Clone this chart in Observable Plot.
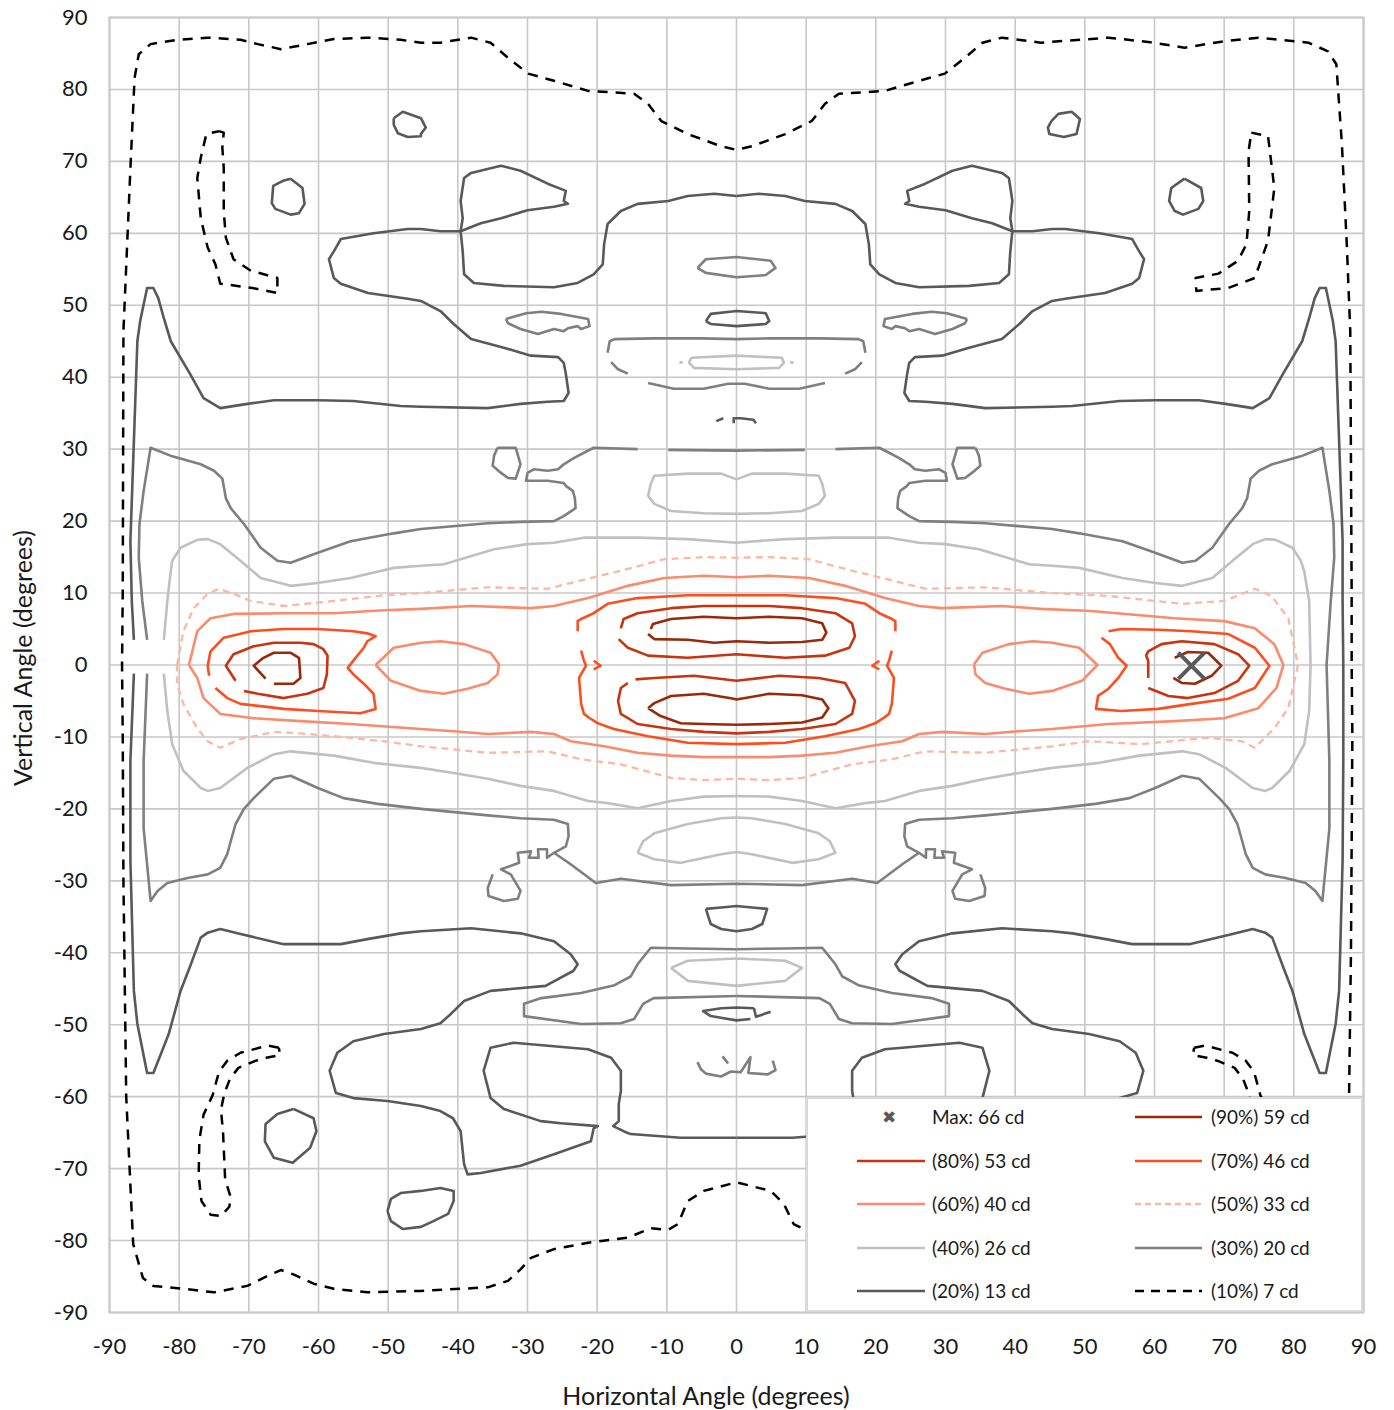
<!DOCTYPE html>
<html><head><meta charset="utf-8">
<script src="https://cdn.jsdelivr.net/npm/d3@7"></script>
<script src="https://cdn.jsdelivr.net/npm/@observablehq/plot@0.6"></script>
<style>
body{margin:0;background:#fff;font-family:Lato,"Open Sans",sans-serif;}
#wrap{position:relative;width:1394px;height:1410px;}
.ttl{position:absolute;font-size:25px;color:#1a1a1a;white-space:nowrap;}
#legend{position:absolute;left:806px;top:1097px;width:557px;height:215px;box-sizing:border-box;border:2px solid #d9d9d9;background:#fff;}
.lgt{position:absolute;font-size:19px;color:#1a1a1a;white-space:nowrap;line-height:20px;}
</style></head><body><div id="wrap"></div>
<script>
const xTicks = [-90,-80,-70,-60,-50,-40,-30,-20,-10,0,10,20,30,40,50,60,70,80,90];
const yTicks = [-90,-80,-70,-60,-50,-40,-30,-20,-10,0,10,20,30,40,50,60,70,80,90];
const maxPoint = [{h:65.3, v:-0.1, cd:66}];
const legendKeys = ["max","90","80","70","60","50","40","30","20","10"];
const legendLabels = ["Max: 66 cd","(90%) 59 cd","(80%) 53 cd","(70%) 46 cd","(60%) 40 cd","(50%) 33 cd","(40%) 26 cd","(30%) 20 cd","(20%) 13 cd","(10%) 7 cd"];

// ---------- 10% (7 cd) ----------
const c10_outer = [[87.9,-62],[88.2,-40],[88.4,-10],[88.3,0],[88.3,10],[88.1,46.4],[87.6,58.5],[86.9,72.4],[86.1,83.5],[84.9,85.3],[82.1,86.5],[74.9,87.2],[70,86.7],[64.3,85.8],[59.1,86.6],[53.4,87.2],[43.7,86.5],[38.1,87.2],[35.3,86.5],[32.8,84.4],[29.9,82.2],[26.2,81.2],[21.3,79.8],[14.7,79.4],[12.7,78],[10.8,75.6],[7,73.8],[2.2,72.1],[0,71.6],[-2.2,72.1],[-7,73.8],[-10.8,75.6],[-12.7,78],[-14.7,79.4],[-21.3,79.8],[-26.2,81.2],[-29.9,82.2],[-32.8,84.4],[-35.3,86.5],[-38.1,87.2],[-42.5,86.5],[-45.3,86.5],[-48.2,86.9],[-53,87.2],[-57.8,87],[-61.6,86.3],[-65.4,85.6],[-68.7,86.3],[-71.2,86.9],[-75.9,87.2],[-80.2,86.9],[-84.1,86.3],[-85.8,84.9],[-86.4,81.6],[-87,69],[-88,46.4],[-88.1,10],[-88.2,0],[-88.1,-10],[-88,-30],[-87.6,-60],[-86.6,-80.5],[-85.2,-85.2],[-83.7,-86.3],[-79.4,-86.7],[-75,-87.2],[-70.2,-86.3],[-67.3,-84.9],[-65.4,-84.1],[-63.6,-84.7],[-60.7,-86],[-57.8,-86.7],[-53,-87.2],[-45.3,-87],[-35.7,-86.5],[-32.8,-85.6],[-31,-84],[-29.5,-82.4],[-26.2,-81.2],[-21.3,-80.3],[-15.6,-79.6],[-12.3,-78.3],[-9.8,-78.5],[-8.4,-77.7],[-7,-74.5],[-4.7,-73.1],[0,-71.9],[4.9,-73.1],[6.8,-74.9],[8.2,-77.7],[10.3,-78.7],[13,-79.5]];
const c10_topLeft = [[-74.3,74.2],[-73.6,74],[-73.8,71.9],[-73.6,69.1],[-73.6,63.1],[-73.3,59.4],[-72.2,56.4],[-69.7,54.8],[-65.9,53.8],[-65.9,51.7],[-69.5,52.4],[-74.1,53],[-74.8,55.7],[-75.9,58],[-76.9,62.1],[-77.4,67.7],[-76.9,70.5],[-76.1,73.8]];
const c10_topRight = [[73.9,74],[76.3,73.5],[77.2,66.3],[76.3,59],[74.4,53.8],[70.6,52.4],[66,52],[65.9,53.8],[69.2,54.4],[72,56.2],[73.2,58.5],[73.6,63.1],[73.5,71.4]];
const c10_botLeft = [[-65.7,-53.2],[-67.3,-52.9],[-71.2,-53.9],[-73.1,-55],[-74.3,-56.6],[-75.2,-59.8],[-76.5,-62.5],[-77.1,-66],[-77.2,-71],[-76.8,-74.5],[-75.5,-76.4],[-74,-76.6],[-72.8,-75.3],[-72.6,-74],[-73.4,-71.5],[-73.7,-65],[-74,-61.8],[-73.5,-59.5],[-72.7,-57.5],[-71.5,-56],[-69,-55],[-67.5,-54.6],[-65.5,-54.2]];
const c10_botRight = [[65.7,-53.2],[67.3,-52.9],[71.2,-53.9],[73.1,-55],[74.3,-56.6],[75.2,-59.8],[76.5,-62.5],[77.1,-66],[77.2,-71],[76.8,-74.5],[75.5,-76.4],[74,-76.6],[72.8,-75.3],[72.6,-74],[73.4,-71.5],[73.7,-65],[74,-61.8],[73.5,-59.5],[72.7,-57.5],[71.5,-56],[69,-55],[67.5,-54.6],[65.5,-54.2]];

// ---------- 20% (13 cd) ----------
const c20_upperLeft = [[0,65.2],[-3.2,65.5],[-7,65.2],[-9.8,64.5],[-14.2,64.1],[-16.6,63.1],[-18.5,61.3],[-19,58.5],[-19.2,55.7],[-20.5,54.3],[-22.8,53.1],[-26.2,52.5],[-33.4,52.7],[-37.7,53.1],[-39.1,54.3],[-39.3,57.5],[-39.6,60.3],[-39.3,62.1],[-39.6,64.5],[-39.1,67.7],[-38.1,68.4],[-33.8,69.4],[-31,68.7],[-27.1,66.9],[-24.5,65.9],[-24.8,64.5],[-24.2,64.1],[-26.2,63.7],[-30,63.2],[-33.8,62.1],[-36.7,61.4],[-39.6,60.3],[-42.5,60.3],[-45.3,60.6],[-47.2,60.6],[-52.1,60],[-56.8,59.2],[-57.8,57.5],[-58.5,56.4],[-57.8,53.8],[-56.8,53],[-52.9,51.7],[-47.2,50.9],[-45.3,50.6],[-42.5,49.2],[-40.6,47.4],[-38.1,45.3],[-33.4,44.1],[-29.5,43],[-25.6,42.8],[-24.8,42],[-24.5,40.5],[-24.1,37.8],[-24.8,36.7],[-27.1,36.6],[-31,36.3],[-35.7,35.7],[-45.3,35.9],[-48.2,36],[-55,36.7],[-60.1,36.8],[-66.4,36.8],[-70.2,36.3],[-74.1,35.7],[-76.5,37.1],[-78.4,40.4],[-81.2,45],[-82.2,48.2],[-83,51],[-83.7,52.4],[-84.6,52.4],[-85.6,47.8],[-86,45],[-86.5,31.1],[-87,17.2],[-86.8,8.9],[-86.5,3.5]];
const c20_lowerLeft = [[-86.5,-1.2],[-87,-13.3],[-87,-27.2],[-86.5,-45.3],[-86,-49.9],[-84.6,-56.7],[-83.7,-56.7],[-81.5,-51.3],[-79.8,-45.3],[-78.4,-41.8],[-76.9,-37.9],[-75.9,-37.2],[-74.1,-36.7],[-71.2,-37.4],[-65,-38.8],[-56.8,-38.8],[-53,-38.1],[-48.2,-37.3],[-45.3,-37],[-38.1,-36.6],[-31,-37.3],[-26.2,-38.4],[-23.8,-40.2],[-22.8,-41.6],[-23.4,-42.5],[-27.4,-44.6],[-35.3,-45.3],[-39.1,-46.7],[-41,-48.5],[-42.5,-49.8],[-45.3,-50.6],[-50.6,-51.3],[-55,-52.3],[-57.3,-53.9],[-58.4,-56.4],[-57.5,-59.5],[-55,-60.2],[-50.1,-60.6],[-45.3,-61.3],[-42.5,-62],[-40.7,-63],[-39.6,-64.8],[-39.1,-69.4],[-38.6,-70.8],[-36.7,-70.6],[-31,-69.6],[-26.2,-68],[-20.9,-66.2],[-20.5,-64.4],[-19.9,-64.1],[-25.2,-63.7],[-28.1,-63.4],[-33.4,-61.7],[-35.3,-60.2],[-36.3,-56.4],[-35.3,-53.2],[-32,-52.5],[-21.3,-53.4],[-18,-54.6],[-16.6,-56.4],[-16.6,-59.2],[-16.9,-61],[-16.9,-63.4],[-17.7,-64.1],[-16.2,-64.8],[-15.2,-65.2],[-8,-65.7],[0,-65.7]];
const c20_right = [[0,-65.7],[8,-65.7],[15.2,-65.2],[16.2,-64.8],[17.7,-64.1],[16.9,-63.4],[16.9,-61],[16.6,-59.2],[16.6,-56.4],[18,-54.6],[21.3,-53.4],[32,-52.5],[35.3,-53.2],[36.3,-56.4],[35.3,-60.2],[33.4,-61.7],[28.1,-63.4],[25.2,-63.7],[19.9,-64.1],[20.5,-64.4],[20.9,-66.2],[26.2,-68],[31,-69.6],[36.7,-70.6],[38.6,-70.8],[39.1,-69.4],[39.6,-64.8],[40.7,-63],[42.5,-62],[45.3,-61.3],[50.1,-60.6],[55,-60.2],[57.5,-59.5],[58.4,-56.4],[57.3,-53.9],[55,-52.3],[50.6,-51.3],[45.3,-50.6],[42.5,-49.8],[41,-48.5],[39.1,-46.7],[35.3,-45.3],[27.4,-44.6],[23.4,-42.5],[22.8,-41.6],[23.8,-40.2],[26.2,-38.4],[31,-37.3],[38.1,-36.6],[45.3,-37],[48.2,-37.3],[53,-38.1],[56.8,-38.8],[65,-38.8],[71.2,-37.4],[74.1,-36.7],[75.9,-37.2],[76.9,-37.9],[78.4,-41.8],[79.8,-45.3],[81.5,-51.3],[83.7,-56.7],[84.6,-56.7],[86,-49.9],[86.5,-45.3],[87,-27.2],[87.1,-13.3],[87.1,0],[87,8.9],[87,17.2],[86.5,31.1],[86,45],[85.6,47.8],[84.6,52.4],[83.7,52.4],[83,51],[82.2,48.2],[81.2,45],[78.4,40.4],[76.5,37.1],[74.1,35.7],[70.2,36.3],[66.4,36.8],[60.1,36.8],[55,36.7],[48.2,36],[45.3,35.9],[35.7,35.7],[31,36.3],[27.1,36.6],[24.8,36.7],[24.1,37.8],[24.5,40.5],[24.8,42],[25.6,42.8],[29.5,43],[33.4,44.1],[38.1,45.3],[40.6,47.4],[42.5,49.2],[45.3,50.6],[47.2,50.9],[52.9,51.7],[56.8,53],[57.8,53.8],[58.5,56.4],[57.8,57.5],[56.8,59.2],[52.1,60],[47.2,60.6],[45.3,60.6],[42.5,60.3],[39.6,60.3],[36.7,61.4],[33.8,62.1],[30,63.2],[26.2,63.7],[24.2,64.1],[24.8,64.5],[24.5,65.9],[27.1,66.9],[31,68.7],[33.8,69.4],[38.1,68.4],[39.1,67.7],[39.6,64.5],[39.3,62.1],[39.6,60.3],[39.3,57.5],[39.1,54.3],[37.7,53.1],[33.4,52.7],[26.2,52.5],[22.8,53.1],[20.5,54.3],[19.2,55.7],[19,58.5],[18.5,61.3],[16.6,63.1],[14.2,64.1],[9.8,64.5],[7,65.2],[3.2,65.5],[0,65.2]];
const c20_islandTL = [[-49.2,76],[-47.9,76.9],[-45.3,76],[-44.6,74.7],[-45.3,73.8],[-45.3,73.5],[-47.2,73.4],[-48.6,73.9],[-49.2,75.1]];
const c20_islandTR = [[45.2,75.6],[46.2,76.6],[48.1,76.9],[49.3,75.9],[48.8,73.8],[47,73.4],[44.9,73.8],[44.7,74.7]];
const c20_circleTL = [[-64,67.6],[-62.3,66.3],[-62,64.1],[-62.8,62.8],[-64,62.6],[-66.2,63.4],[-66.7,64.2],[-66.5,66.6],[-65.1,67.3]];
const c20_circleTR = [[64.3,67.6],[66.7,66.3],[67,64.5],[66.3,63.4],[64.1,62.6],[62.9,63.1],[62.1,64.5],[62.4,66.3]];
const c20_circleBL = [[-63.6,-61.7],[-60.7,-63],[-60.3,-64.8],[-61.2,-67.1],[-63.7,-69.2],[-66.4,-68.5],[-67.7,-66.2],[-67.6,-63.8],[-65.9,-62.4]];
const c20_islandBL = [[-50.1,-75.9],[-49.6,-74.2],[-48.2,-73.4],[-45.3,-73.1],[-42.5,-72.7],[-40.6,-73.1],[-40.6,-74.5],[-41.4,-76.3],[-43.5,-77.3],[-45.3,-78.1],[-47.9,-78.4],[-49.6,-77.3]];
const c20_center48 = [[-4.4,47.8],[-3.7,48.8],[0,49.2],[4.2,48.9],[4.7,47.8],[4.2,47.4],[0,47.1],[-3.7,47.4]];
const c20_sq34a = [[-2.9,33.9],[-1.9,34.3]];
const c20_sq34b = [[-0.4,33.6],[-0.4,34.3],[0.6,34.3],[2.4,34.1],[2.8,33.6]];
const c20_centerM35 = [[-4.4,-33.9],[-3.7,-36],[-2.2,-36.7],[0,-37],[2.2,-36.7],[3.7,-36],[4.4,-33.9],[2.2,-33.7],[0,-33.5],[-2.2,-33.7]];
const c20_sqM48 = [[2.5,-47.7],[0,-47.6],[-2.2,-47.7],[-4.8,-48.1],[-3.7,-48.8],[0,-49.4],[2,-49.2]];
const c20_sqM48hook = [[2.5,-47.7],[2.8,-48.9],[4.9,-48.2]];

// ---------- 30% (20 cd) ----------
const c30_upperLeft = [[-14.2,30],[-20.5,30.2],[-21.9,29.5],[-23.3,28.8],[-24.8,27.9],[-25.6,27.2],[-27.1,27],[-29.1,27.2],[-30,26.7],[-30.2,25.6],[-27.1,25.6],[-24.8,25.3],[-24.5,24.9],[-23.5,24.2],[-23.2,23.2],[-23.1,21.8],[-24.8,20.7],[-26.2,20],[-31,19.9],[-35.7,19.7],[-45.3,18.9],[-49.2,18.3],[-55.4,17.2],[-60.1,15.6],[-64,14.2],[-65.9,14.5],[-68.3,16.3],[-70.7,19.6],[-72.6,21.8],[-73.3,23.2],[-73.8,25.9],[-75,27],[-76.9,27.9],[-81,29],[-84.1,30.2],[-85.1,24.2],[-85.7,19.6],[-85.8,14.9],[-85.3,8.9],[-84.6,3.5]];
const c30_center30 = [[-9.8,29.9],[0,29.8],[9.8,29.9]];
const c30_rest = [[-84.6,-1.2],[-85.1,-13.3],[-85.1,-22.7],[-84.1,-32.8],[-83.1,-31.4],[-81.7,-30.3],[-78.8,-29.6],[-75.9,-29.1],[-74.1,-28.2],[-73.1,-26.3],[-72.6,-24.5],[-71.9,-22.1],[-70.7,-20],[-69.3,-18.5],[-66.4,-15.8],[-64,-15.4],[-60.1,-17.1],[-56.4,-18.5],[-51.5,-19.3],[-45.3,-20],[-35.7,-20.9],[-31,-21.3],[-26.2,-21.5],[-24.2,-22.1],[-24.1,-23.8],[-24.5,-25.2],[-26.2,-26.1],[-23.8,-27.7],[-20.2,-30.3],[-16.6,-29.7],[-9.4,-30.6],[0,-30.4],[9.4,-30.6],[16.6,-29.7],[20.2,-30.3],[23.8,-27.7],[26.2,-26.1],[24.5,-25.2],[24.1,-23.8],[24.2,-22.1],[26.2,-21.5],[31,-21.3],[35.7,-20.9],[45.3,-20],[51.5,-19.3],[56.4,-18.5],[60.1,-17.1],[64,-15.4],[66.4,-15.8],[69.3,-18.5],[70.7,-20],[71.9,-22.1],[72.6,-24.5],[73.1,-26.3],[74.1,-28.2],[75.9,-29.1],[78.8,-29.6],[81.7,-30.3],[83.1,-31.4],[84.1,-32.8],[85.1,-22.7],[85.1,-13.3],[84.7,0],[85.3,8.9],[85.8,14.9],[85.7,19.6],[85.1,24.2],[84.1,30.2],[81,29],[76.9,27.9],[75,27],[73.8,25.9],[73.3,23.2],[72.6,21.8],[70.7,19.6],[68.3,16.3],[65.9,14.5],[64,14.2],[60.1,15.6],[55.4,17.2],[49.2,18.3],[45.3,18.9],[35.7,19.7],[31,19.9],[26.2,20],[24.8,20.7],[23.1,21.8],[23.2,23.2],[23.5,24.2],[24.5,24.9],[24.8,25.3],[27.1,25.6],[30.2,25.6],[30,26.7],[29.1,27.2],[27.1,27],[25.6,27.2],[24.8,27.9],[23.3,28.8],[21.9,29.5],[20.5,30.2],[14.2,30]];
const c30_jagLeft = [[-26.2,-26.1],[-27.2,-26.8],[-27.2,-25.6],[-28.5,-25.6],[-28.4,-26.8],[-29.8,-26.8],[-29.5,-25.9],[-31.4,-26.1],[-31.2,-27.5],[-33.8,-28.4],[-32.4,-29.1],[-31,-31.4],[-31.4,-32.5],[-33.4,-32.8],[-35.6,-32.1],[-35.7,-31],[-35,-29.1]];
const c30_jagRight = [[26.2,-26.1],[27.2,-26.8],[27.2,-25.6],[28.5,-25.6],[28.4,-26.8],[29.8,-26.8],[29.5,-25.9],[31.4,-26.1],[31.2,-27.5],[33.8,-28.4],[32.4,-29.1],[31,-31.4],[31.4,-32.5],[33.4,-32.8],[35.6,-32.1],[35.7,-31],[35,-29.1]];
const c30_loopL = [[-34.3,30.2],[-31.7,30.2],[-31,27.9],[-31.7,25.9],[-32.8,26],[-33.8,26.7],[-35,27.7],[-34.8,29.1]];
const c30_loopR = [[34.3,30.2],[31.7,30.2],[31,27.9],[31.7,25.9],[32.8,26],[33.8,26.7],[35,27.7],[34.8,29.1]];
const c30_lensL = [[-33.1,48.1],[-30.2,48.9],[-28,49.1],[-25.2,48.8],[-21.3,48.1],[-21.1,47.1],[-22.3,46.7],[-22.8,47.1],[-24.2,46.8],[-24.8,46.4],[-26.2,46.7],[-28.5,46],[-31,46.7],[-32.8,47.5]];
const c30_lensR = [[33.1,48.1],[30.2,48.9],[28,49.1],[25.2,48.8],[21.3,48.1],[21.1,47.1],[22.3,46.7],[22.8,47.1],[24.2,46.8],[24.8,46.4],[26.2,46.7],[28.5,46],[31,46.7],[32.8,47.5]];
const c30_center56 = [[-5.6,55.2],[-4.4,56.4],[0,56.7],[4.9,56.2],[5.6,55.2],[4.2,54.2],[0,53.9],[-4.4,54.5]];
const c30_bracket45 = [[-18.5,43.4],[-18.2,45],[-17.5,45.3],[-12,45.4],[-5,45.4],[0,45.3],[5,45.4],[12,45.4],[17.5,45.3],[18.2,45],[18.5,43.4]];
const c30_bowlL = [[-18,42.1],[-17,41.1],[-15.6,40.5]];
const c30_bowl = [[-12.7,39.2],[-9,38.4],[-4.7,38.4],[-1.2,39.1],[0,39.1],[1.2,39.1],[4.7,38.4],[9,38.4],[12.7,39.2]];
const c30_bowlR = [[15.6,40.5],[17,41.1],[18,42.1]];
const c30_lowL = [[0,-39.5],[-7,-39.4],[-12.3,-39.3],[-14.2,-41.6],[-15.2,-43.3],[-17.5,-44.5],[-22.3,-45.6],[-28,-46.3],[-30.5,-47.1],[-30.5,-48.8],[-22.3,-49.9],[-16.6,-49.8],[-14.7,-49.2],[-13.4,-47.1],[-11.9,-46.3],[0,-46]];
const c30_lowR = [[0,-39.5],[7,-39.4],[12.3,-39.3],[14.2,-41.6],[15.2,-43.3],[17.5,-44.5],[22.3,-45.6],[28,-46.3],[30.5,-47.1],[30.5,-48.8],[22.3,-49.9],[16.6,-49.8],[14.7,-49.2],[13.4,-47.1],[11.9,-46.3],[0,-46]];
const c30_sqM56 = [[-5.6,-55.2],[-5.1,-56.2],[-4.4,-56.8],[-2.2,-57.2],[-0.8,-56.5],[0.6,-56.6],[2,-54.5],[1.7,-56.7],[4.5,-56.9],[5.6,-56.3],[5.2,-55]];
const c30_sqM56dash = [[-2,-54.4],[-1.2,-55.4]];

// ---------- 40% (26 cd) ----------
const c40_main = [[-82.2,3.5],[-81.7,8.9],[-81.2,13.1],[-81,14.5],[-79.8,16.3],[-77.4,17.4],[-75.9,17.5],[-74.1,16.8],[-71.2,14.5],[-68.3,12.1],[-64,11],[-60.1,11.4],[-55.4,12.1],[-49.2,13.5],[-45.3,13.8],[-42,14],[-34.8,16.1],[-30,16.8],[-26.2,17],[-21.9,17.7],[-14.2,17.7],[-7,17.5],[0,17],[7,17.5],[14.2,17.7],[21.9,17.7],[26.2,17],[30,16.8],[34.8,16.1],[42,14],[45.3,13.8],[49.2,13.5],[55.4,12.1],[60.1,11.4],[64,11],[68.3,12.1],[71.2,14.5],[74.1,16.8],[75.9,17.5],[77.4,17.4],[79.8,16.3],[81,14.5],[81.5,13],[82.2,8.9],[82.4,0],[82.2,-6.4],[81.5,-11],[79.4,-14.7],[76.9,-17.1],[75.9,-17.5],[74.1,-17.1],[70.2,-14.3],[66.4,-12.4],[64,-12],[57.8,-12.6],[52.1,-13.6],[45.3,-14.3],[40.6,-15],[35.7,-15.8],[31,-16.8],[26.2,-17.5],[21.3,-18.9],[18.5,-19.2],[14.2,-19.9],[9.4,-18.9],[4.7,-18.3],[0,-18.2],[-4.7,-18.3],[-9.4,-18.9],[-14.2,-19.9],[-18.5,-19.2],[-21.3,-18.9],[-26.2,-17.5],[-31,-16.8],[-35.7,-15.8],[-40.6,-15],[-45.3,-14.3],[-52.1,-13.6],[-57.8,-12.6],[-64,-12],[-66.4,-12.4],[-70.2,-14.3],[-74.1,-17.1],[-75.9,-17.5],[-76.9,-17.1],[-79.4,-14.7],[-81,-11],[-81.7,-6.4],[-82.2,-1.2]];
const c40_center42 = [[-6.5,42.7],[0,43],[6.5,42.7],[6.8,42],[6.1,41.3],[0,41.1],[-6.1,41.3],[-6.8,42]];
const c40_dotL = [[-8.2,42],[-7.7,42.1]];
const c40_dotR = [[7.7,42.1],[8.2,42]];
const c40_lens24 = [[-12.7,23.5],[-12.3,25.2],[-11.8,26.3],[-7,26.6],[-2.2,26.6],[0,25.8],[2.2,26.6],[7,26.6],[11.8,26.3],[12.3,25.2],[12.7,23.5],[11.8,22.4],[9.4,21.4],[4.7,21.1],[0,21],[-4.7,21.1],[-9.4,21.4],[-11.8,22.4]];
const c40_lensM24 = [[-14.2,-26.1],[-13.4,-24.5],[-11.8,-23.4],[-7,-22.1],[-2.2,-21.3],[0,-21.2],[2.2,-21.3],[7,-22.1],[11.8,-23.4],[13.4,-24.5],[14.2,-26.1],[11.8,-27],[8,-27.5],[2.2,-26.3],[0,-26],[-2.2,-26.3],[-8,-27.5],[-11.8,-27]];
const c40_lensM42 = [[-9.4,-42.1],[-7,-41.1],[0,-40.8],[7,-41.1],[9.4,-42.1],[7,-43.9],[0,-44.6],[-7,-43.9]];

// ---------- 50% (33 cd) ----------
const c50_main = [[-80.3,0],[-79.4,4.7],[-77.9,7.9],[-75.9,9.9],[-74.3,10.6],[-72.2,9.9],[-69.7,8.9],[-65,8.2],[-57.8,8.9],[-50.6,9.7],[-45.3,10],[-35.7,10.8],[-27.1,10.6],[-21.3,12],[-16.6,13.1],[-10.4,14.7],[-4.7,15],[0,14.9],[4.7,15],[10.4,14.7],[16.6,13.1],[21.3,12],[27.1,10.6],[35.7,10.8],[45.3,10],[53.4,9.6],[63.9,8.5],[70,8.9],[74.4,10.6],[76.8,9.6],[79.2,6.5],[80.6,0],[79.2,-6],[77.2,-8.8],[74.4,-11.5],[72.5,-10.6],[67.7,-10.1],[58.1,-11],[50.6,-10.6],[45.3,-11.3],[35.7,-12.2],[27.1,-12],[22.3,-13.1],[16.6,-13.8],[9.4,-15.7],[4.7,-16],[0,-15.8],[-4.7,-16],[-9.4,-15.7],[-16.6,-13.8],[-22.3,-13.1],[-27.1,-12],[-35.7,-12.2],[-45.3,-11.3],[-50.6,-10.6],[-57.8,-9.9],[-62.6,-9.5],[-66.4,-9.3],[-71.2,-10.3],[-74.1,-11.5],[-75.9,-10.6],[-77.4,-8.8],[-79.4,-5.4],[-80.3,-2.6]];

// ---------- 60% (40 cd) ----------
const c60_main = [[-78.6,0],[-77.4,4.7],[-75.5,6.5],[-72.2,7.1],[-65,7.2],[-57.8,7.2],[-50.6,7.6],[-45.3,7.8],[-38.1,8.2],[-29.5,7.9],[-26.2,8.2],[-21.3,9.3],[-15.6,11],[-10.4,12.1],[-4.7,12.4],[0,12.2],[4.7,12.4],[10.4,12.1],[15.6,11],[21.3,9.3],[26.2,8.2],[29.5,7.9],[38.1,8.2],[43.7,7.8],[50.9,7.5],[62.9,6.5],[70,6.1],[74.4,5.1],[77.2,2.9],[78.5,0],[77.5,-3.2],[74.9,-6],[70,-7.4],[62.9,-7.8],[53.4,-8.2],[45.3,-8.9],[40.6,-9.2],[35.7,-9.6],[29.5,-9.3],[26.2,-9.6],[23.8,-10.6],[19,-11.3],[14.2,-12.2],[9.4,-12.6],[4.7,-12.8],[0,-12.8],[-4.7,-12.8],[-9.4,-12.6],[-14.2,-12.2],[-19,-11.3],[-23.8,-10.6],[-26.2,-9.6],[-29.5,-9.3],[-35.7,-9.6],[-40.6,-9.2],[-45.3,-8.9],[-55.4,-8.2],[-62.6,-7.8],[-69.3,-7.4],[-74.1,-6.8],[-76.5,-4.6],[-77.4,-1.8]];
const c60_innerL = [[-51.8,0],[-49.2,2.4],[-45.3,3.1],[-42.5,3.3],[-39.1,2.9],[-35.3,1.7],[-34.1,0.1],[-34.3,-1.3],[-35.7,-2.5],[-38.6,-3.3],[-42,-4],[-45.3,-3.6],[-49.6,-2.2]];
const c60_innerR = [[34.1,0.1],[35.3,1.7],[39.1,2.9],[42.5,3.3],[45.3,3.1],[49.2,2.4],[51.8,0],[49.6,-2.2],[45.3,-3.6],[42,-4],[38.6,-3.3],[35.7,-2.5],[34.3,-1.3]];

// ---------- 70% (46 cd) ----------
const c70_left = [[-75.7,-1.5],[-75.9,-0.1],[-75.5,1.9],[-73.6,3.8],[-69.7,4.7],[-65,5],[-60.1,5],[-55,4.7],[-53,4.4],[-51.8,4],[-53,3.3],[-53.5,2.4],[-55,0.6],[-55.8,-0.4],[-55,-1.3],[-53.5,-2.6],[-52.1,-4],[-51.8,-6.1],[-54,-6.7],[-60.1,-6.4],[-65,-6.1],[-71.2,-5.4],[-73.1,-4.6],[-74.8,-3.2]];
const c70_right = [[53.4,4.7],[55.2,5],[60.5,4.9],[65.3,4.7],[70.6,4.3],[74.4,2.4],[76.5,-0.1],[74.4,-3.2],[70.6,-4.7],[65.3,-5.4],[60.5,-6.1],[55.2,-6.4],[51.6,-6.1],[51.9,-4.3],[53.4,-3.3],[54.8,-1.8],[56,-0.1],[54.8,1],[53.6,2.9],[52.4,3.8]];
const c70_centerTop = [[-22.8,4.7],[-22.8,6.1],[-22.3,6.4],[-20.5,7.2],[-18.5,8.5],[-14.2,9.3],[-7,9.7],[0,9.7],[7,9.7],[14.2,9.3],[18.5,8.5],[20.5,7.2],[22.3,6.4],[22.8,6.1],[22.8,4.7]];
const c70_centerBot = [[-22.3,2],[-21.9,0.6],[-21.6,-0.1],[-22.6,-1.8],[-22.3,-5.4],[-21.9,-6.8],[-20.9,-7.5],[-19.9,-8.1],[-17.6,-8.9],[-12.7,-9.9],[-7,-10.8],[0,-11],[7,-10.8],[12.7,-9.9],[17.6,-8.9],[19.9,-8.1],[20.9,-7.5],[21.9,-6.8],[22.3,-5.4],[22.6,-1.8],[21.6,-0.1],[21.9,0.6],[22.3,2]];
const c70_chevL = [[-20.5,0.6],[-19.5,-0.1],[-20.5,-0.6]];
const c70_chevR = [[20.5,0.6],[19.5,-0.1],[20.5,-0.6]];

// ---------- 80% (53 cd) ----------
const c80_left = [[-71.9,-2.2],[-73.3,-0.1],[-72.2,1.5],[-69.3,2.6],[-66.4,3.1],[-62.6,3.1],[-60.7,2.9],[-59.3,2.2],[-58.7,1.3],[-58.8,-1.3],[-59.3,-3.2],[-61.6,-4],[-65,-4.6],[-68.7,-4],[-70.7,-3.6]];
const c80_right = [[59.1,-1.8],[59.1,0.6],[58.8,1.3],[59.1,1.9],[61,2.9],[63.9,3.3],[68.6,2.9],[72,1.5],[73.6,-0.1],[72,-2.2],[68.6,-3.9],[64.8,-4.6],[62,-4.3],[59.1,-3.2]];
const c80_centerUp = [[-16.6,5.1],[-16.2,6.4],[-14.2,7.2],[-9.4,7.9],[-4.7,8.2],[0,8.2],[4.7,8.2],[9.4,7.9],[14.2,7.2],[16.6,5.8],[17,4],[16.2,2.4],[12.7,1.3],[7,1],[0,1.5],[-7,1],[-12.7,1.3],[-15.6,2.4],[-16.9,3.6]];
const c80_centerLow = [[-14.5,-2],[-11.8,-1.8],[-6.1,-1.5],[0,-2.2],[6.1,-1.5],[11.8,-1.8],[15.6,-2.5],[17,-5],[16.6,-6.8],[14.2,-8.2],[9.4,-8.9],[4.7,-9.3],[0,-9.5],[-4.7,-9.3],[-9.4,-8.9],[-14.2,-8.2],[-16.6,-6.8],[-17,-5],[-16.6,-3.2],[-15.6,-2.5]];

// ---------- 90% (59 cd) ----------
const c90_left = [[-67.6,-1.9],[-69.3,-0.1],[-67.9,1],[-66.4,1.7],[-64,1.7],[-62.8,1],[-62.6,-1.8],[-63.6,-2.6],[-66.4,-2.6]];
const c90_right = [[62.9,1],[64.8,1.8],[67.7,1.7],[69.6,-0.1],[68.2,-1.5],[65.8,-2.6],[63.9,-2.5],[62.7,-1.8]];
const c90_centerUp = [[-12.3,5],[-12,5.7],[-9.4,6.4],[-4.7,6.7],[0,6.5],[4.7,6.7],[9.4,6.5],[12.3,5.8],[12.9,4.5],[12.3,3.5],[9.4,3.2],[4.7,3.1],[0,3.3],[-3.2,3.1],[-7,3.5],[-11.8,3.6],[-12.7,4.3]];
const c90_centerLow = [[-12.7,-6],[-11.8,-5.3],[-9.4,-4.3],[-4.7,-4],[-0.4,-4.7],[0,-4.8],[4.7,-4],[9.4,-4.2],[12.3,-4.8],[13.2,-6],[12.3,-7.3],[9.4,-8],[4.7,-8.2],[0,-8.3],[-4.7,-8.2],[-8,-8.1],[-10.9,-7.1]];

const contours = [
  ["10",c10_outer,false],["10",c10_topLeft,true],["10",c10_topRight,true],["10",c10_botLeft,true],["10",c10_botRight,true],
  ["20",c20_upperLeft,false],["20",c20_lowerLeft,false],["20",c20_right,false],["20",c20_islandTL,true],["20",c20_islandTR,true],
  ["20",c20_circleTL,true],["20",c20_circleTR,true],["20",c20_circleBL,true],["20",c20_islandBL,true],["20",c20_center48,true],
  ["20",c20_sq34a,false],["20",c20_sq34b,false],["20",c20_centerM35,true],["20",c20_sqM48,false],["20",c20_sqM48hook,false],
  ["30",c30_upperLeft,false],["30",c30_center30,false],["30",c30_rest,false],["30",c30_jagLeft,false],["30",c30_jagRight,false],
  ["30",c30_loopL,true],["30",c30_loopR,true],["30",c30_lensL,true],["30",c30_lensR,true],["30",c30_center56,true],
  ["30",c30_bracket45,false],["30",c30_bowlL,false],["30",c30_bowl,false],["30",c30_bowlR,false],["30",c30_lowL,false],["30",c30_lowR,false],
  ["30",c30_sqM56,false],["30",c30_sqM56dash,false],
  ["40",c40_main,false],["40",c40_center42,true],["40",c40_dotL,false],["40",c40_dotR,false],["40",c40_lens24,true],["40",c40_lensM24,true],["40",c40_lensM42,true],
  ["50",c50_main,true],
  ["60",c60_main,true],["60",c60_innerL,true],["60",c60_innerR,true],
  ["70",c70_left,false],["70",c70_right,false],["70",c70_centerTop,false],["70",c70_centerBot,false],["70",c70_chevL,false],["70",c70_chevR,false],
  ["80",c80_left,false],["80",c80_right,false],["80",c80_centerUp,false],["80",c80_centerLow,false],
  ["90",c90_left,false],["90",c90_right,false],["90",c90_centerUp,false],["90",c90_centerLow,true]
];

const styles = {
  "90":{stroke:"#982a0a",w:2.6,dash:null},
  "80":{stroke:"#c8340f",w:2.6,dash:null},
  "70":{stroke:"#fc4f20",w:2.6,dash:null},
  "60":{stroke:"#fa8b6c",w:2.6,dash:null},
  "50":{stroke:"#fbb8a4",w:2.3,dash:"7,5"},
  "40":{stroke:"#c0c0c0",w:2.6,dash:null},
  "30":{stroke:"#7f7f7f",w:2.6,dash:null},
  "20":{stroke:"#595959",w:2.6,dash:null},
  "10":{stroke:"#000000",w:2.5,dash:"10,8"}
};

const rows = [];
contours.forEach(([level, pts, closed], id) => {
  const seq = closed ? pts.concat([pts[0]]) : pts;
  seq.forEach(([h, v]) => rows.push({h, v, id, level}));
});

const lineMarks = ["40","30","20","10","50","60","70","80","90"].map(lv => {
  const s = styles[lv];
  const o = {x:"h", y:"v", z:"id", stroke:s.stroke, strokeWidth:s.w, strokeLinejoin:"round", strokeLinecap:"butt"};
  if (s.dash) o.strokeDasharray = s.dash;
  return Plot.line(rows.filter(d => d.level === lv), o);
});

const chart = Plot.plot({
  width:1394, height:1410,
  marginLeft:109, marginRight:31, marginTop:17, marginBottom:98,
  style:{fontFamily:"Lato, 'Open Sans', sans-serif", fontSize:"22px", color:"#1a1a1a", background:"white"},
  x:{domain:[-90,90], ticks:xTicks, tickSize:0, tickPadding:26, label:null, tickFormat:d=>String(d)},
  y:{domain:[-90,90], ticks:yTicks, tickSize:0, tickPadding:22, label:null, tickFormat:d=>String(d)},
  marks:[
    Plot.gridX(xTicks, {stroke:"#c8c8c8", strokeOpacity:1, strokeWidth:1.6}),
    Plot.gridY(yTicks, {stroke:"#c8c8c8", strokeOpacity:1, strokeWidth:1.6}),
    Plot.frame({stroke:"#c8c8c8", strokeWidth:2}),
    ...lineMarks,
    Plot.dot(maxPoint, {x:"h", y:"v", symbol:"times", r:12, stroke:"#595959", strokeWidth:4})
  ]
});

const wrap = document.getElementById("wrap");
wrap.appendChild(chart);

function addDiv(cls, text, css){ const d=document.createElement("div"); d.className=cls; d.textContent=text; Object.assign(d.style, css); wrap.appendChild(d); return d; }
addDiv("ttl","Horizontal Angle (degrees)",{left:"706px",top:"1395px",transform:"translate(-50%,-50%)"});
addDiv("ttl","Vertical Angle (degrees)",{left:"22px",top:"658px",transform:"translate(-50%,-50%) rotate(-90deg)"});

const lg = document.createElement("div"); lg.id="legend"; wrap.appendChild(lg);
legendKeys.forEach((k,i) => {
  const row = Math.floor(i/2), col = i%2;
  const cy = 1117 + row*43.5;
  const x0 = col===0 ? 857 : 1135, x1 = col===0 ? 925 : 1202, tx = col===0 ? 932 : 1211;
  if (k === "max") {
    addDiv("lgt","\u2716",{left:"882px",top:(cy-10)+"px",color:"#595959",fontSize:"17px"});
  } else {
    const s = styles[k];
    const svg = document.createElementNS("http://www.w3.org/2000/svg","svg");
    svg.setAttribute("width", x1-x0); svg.setAttribute("height", 8);
    svg.style.position="absolute"; svg.style.left=x0+"px"; svg.style.top=(cy-4)+"px";
    const ln = document.createElementNS("http://www.w3.org/2000/svg","line");
    ln.setAttribute("x1",0); ln.setAttribute("x2",x1-x0); ln.setAttribute("y1",4); ln.setAttribute("y2",4);
    ln.setAttribute("stroke",s.stroke); ln.setAttribute("stroke-width",s.w);
    if (s.dash) ln.setAttribute("stroke-dasharray", k==="10" ? "9,7" : "6,4");
    svg.appendChild(ln); wrap.appendChild(svg);
  }
  addDiv("lgt", legendLabels[i], {left:tx+"px", top:(cy-10)+"px"});
});
</script>
</body></html>
